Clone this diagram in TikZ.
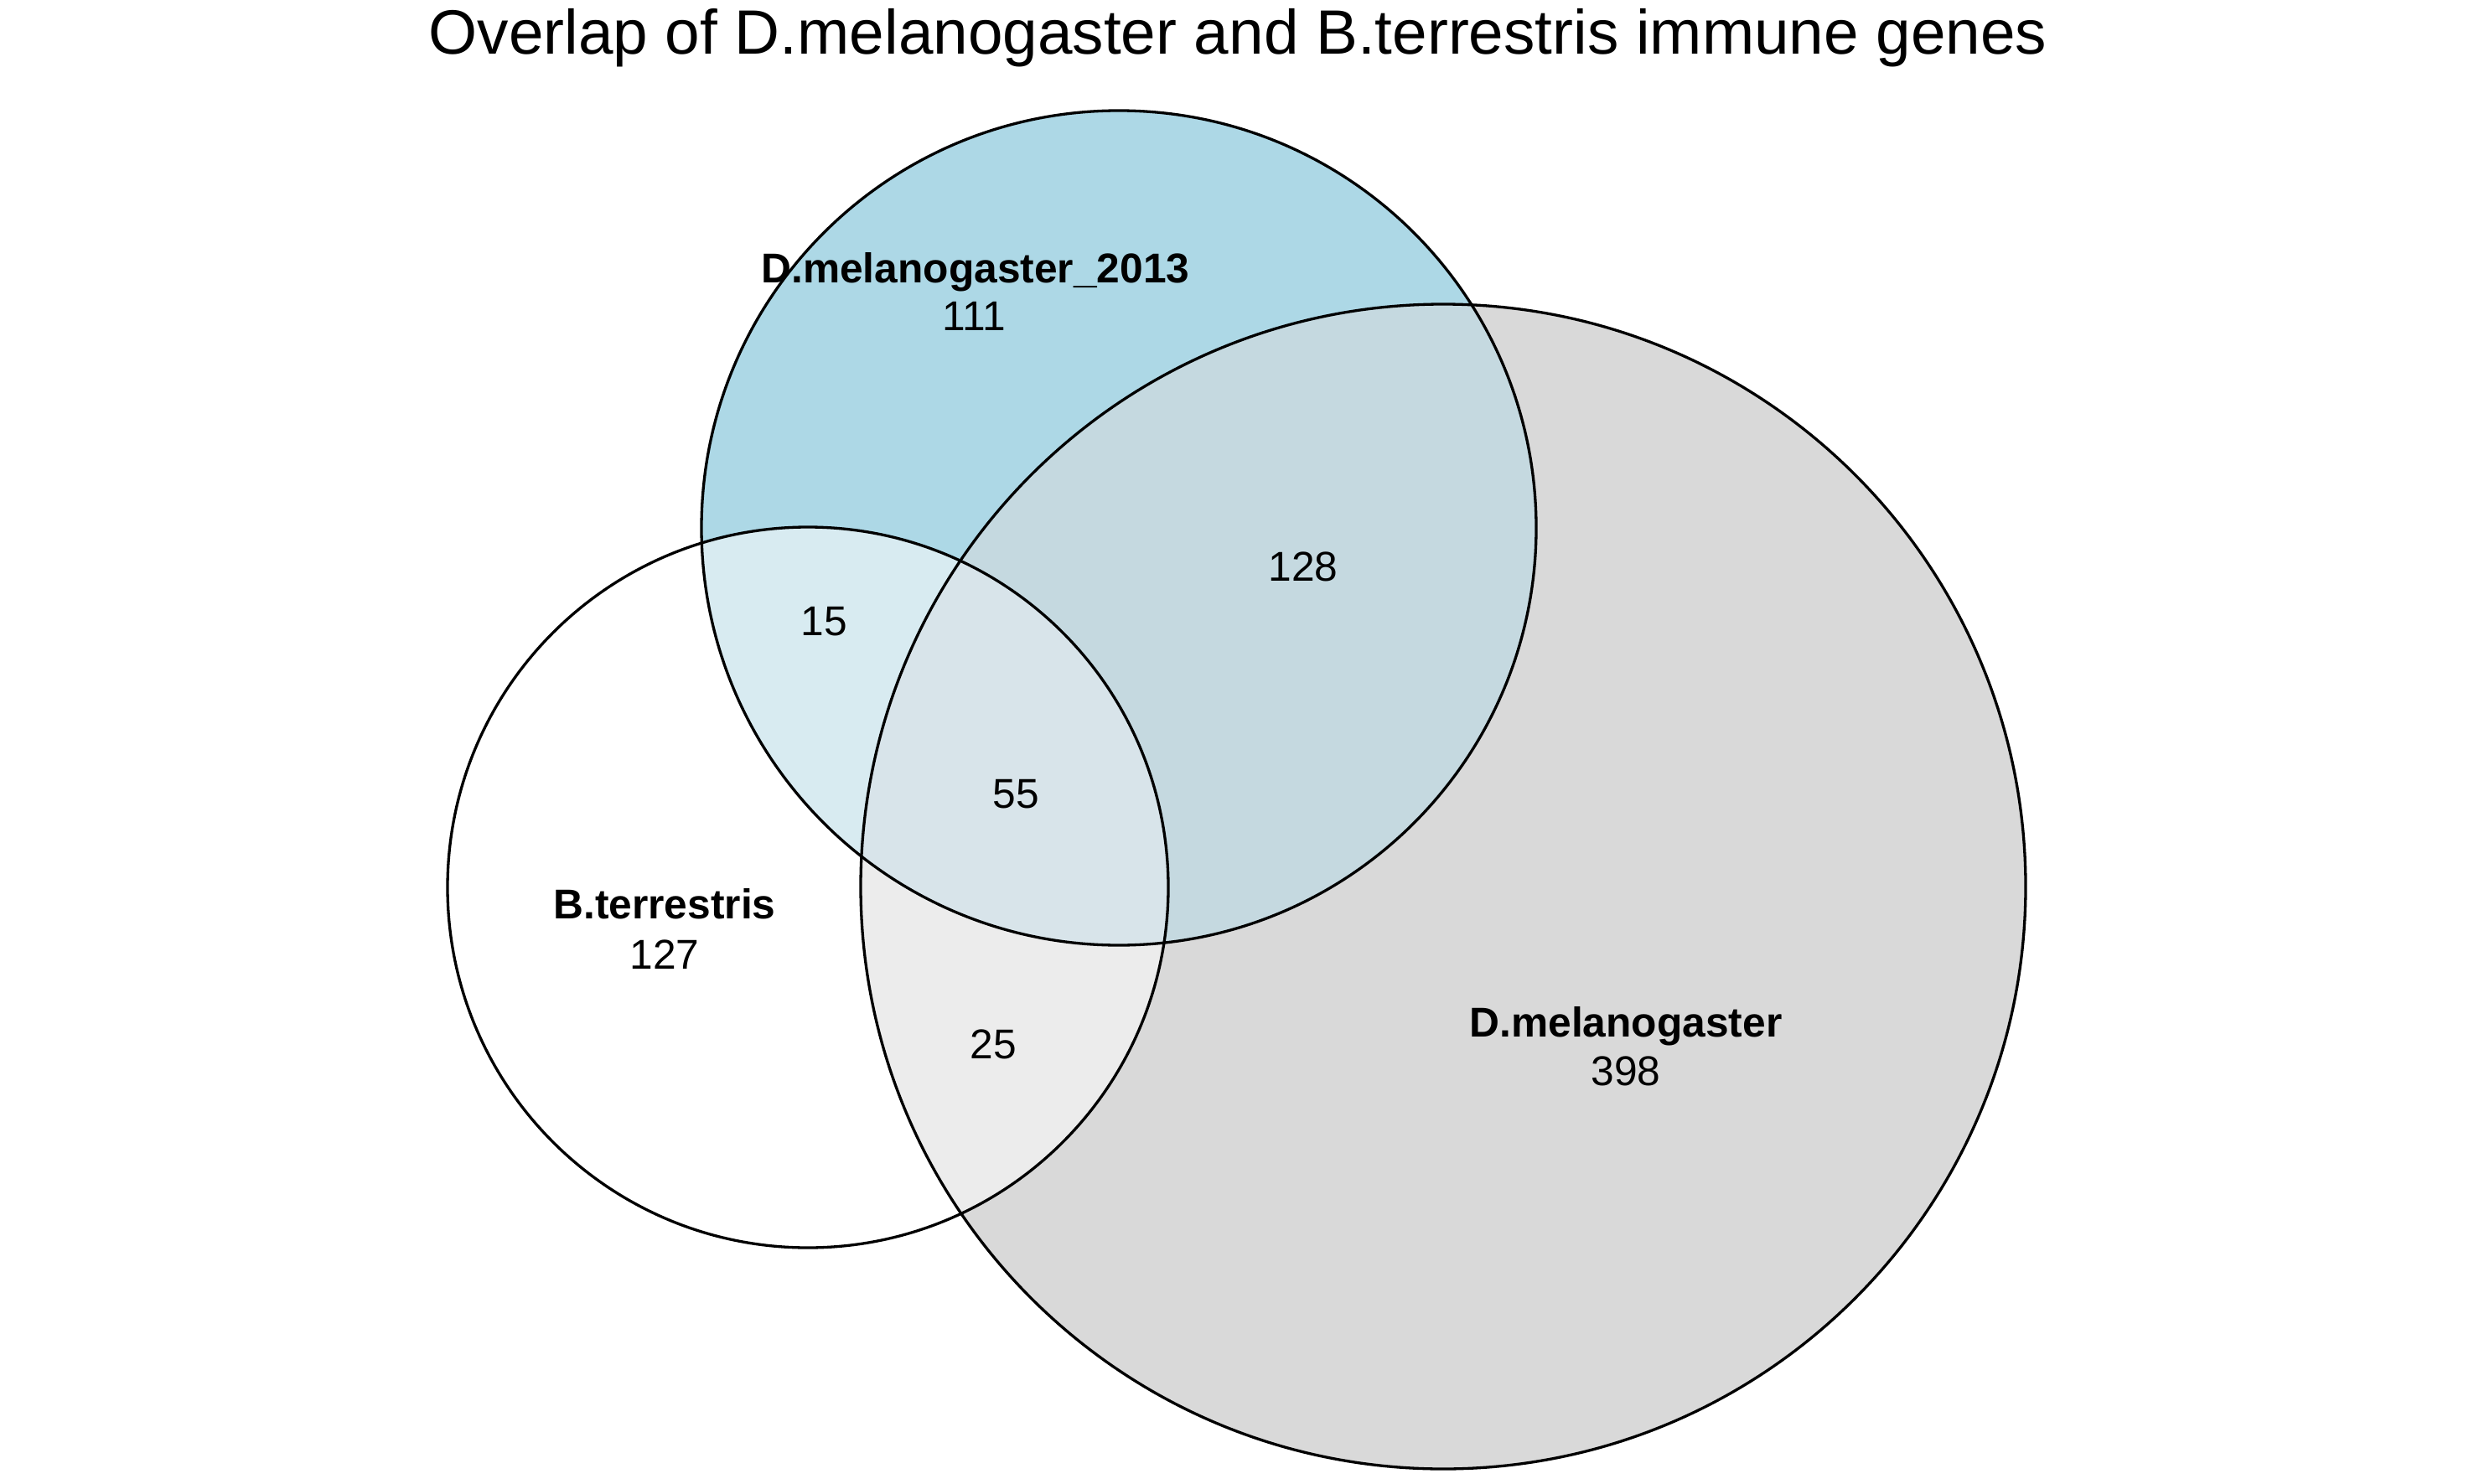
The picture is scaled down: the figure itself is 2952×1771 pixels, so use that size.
\documentclass[tikz,border=0pt]{standalone}
\usepackage{fontspec}
\setmainfont{Liberation Sans}
\definecolor{cG}{RGB}{217,217,217}
\definecolor{cB}{RGB}{173,216,230}
\definecolor{cBG}{RGB}{197,217,224}
\definecolor{cWB}{RGB}{216,235,241}
\definecolor{cWG}{RGB}{236,236,236}
\definecolor{cWBG}{RGB}{216,228,234}
\tikzset{
  lab/.style={font=\fontsize{49.7}{55}\selectfont\bfseries, anchor=base, inner sep=0pt},
  num/.style={font=\fontsize{49.7}{55}\selectfont, anchor=base, inner sep=0pt},
  ttl/.style={font=\fontsize{74.7}{80}\selectfont, anchor=base, inner sep=0pt},
  outline/.style={draw=black, line width=3.3pt}
}
\begin{document}
\begin{tikzpicture}[x=1pt,y=-1pt]
\useasboundingbox (0,0) rectangle (2952,1771);
\fill[white] (0,0) rectangle (2952,1771);
% regions
\fill[cG] (1722,1058) circle[radius=695];
\fill[cB] (1335,630) circle[radius=498];
\begin{scope}
  \clip (1335,630) circle[radius=498];
  \fill[cBG] (1722,1058) circle[radius=695];
\end{scope}
\fill[white] (964,1059) circle[radius=430];
\begin{scope}
  \clip (964,1059) circle[radius=430];
  \fill[cWB] (1335,630) circle[radius=498];
  \fill[cWG] (1722,1058) circle[radius=695];
  \clip (1335,630) circle[radius=498];
  \fill[cWBG] (1722,1058) circle[radius=695];
\end{scope}
% outlines
\node[outline, circle, minimum size=1390pt, inner sep=0pt] (dmel) at (1722,1058) {};
\node[outline, circle, minimum size=996pt, inner sep=0pt] (dmel13) at (1335,630) {};
\node[outline, circle, minimum size=860pt, inner sep=0pt] (bter) at (964,1059) {};
% texts
\node[ttl] (title) at (1477,65) {Overlap of D.melanogaster and B.terrestris immune genes};
\node[lab] (l13) at (1164,337) {D.melanogaster\_2013};
\node[num] (n111) at (1162,394) {111};
\node[num] (n15) at (983,758) {15};
\node[num] (n128) at (1555,693) {128};
\node[num] (n55) at (1212,964) {55};
\node[lab] (lbt) at (793,1096) {B.terrestris};
\node[num] (n127) at (793,1156) {127};
\node[num] (n25) at (1185,1263) {25};
\node[lab] (ldm) at (1940,1237) {D.melanogaster};
\node[num] (n398) at (1940,1295) {398};
\end{tikzpicture}
\end{document}
